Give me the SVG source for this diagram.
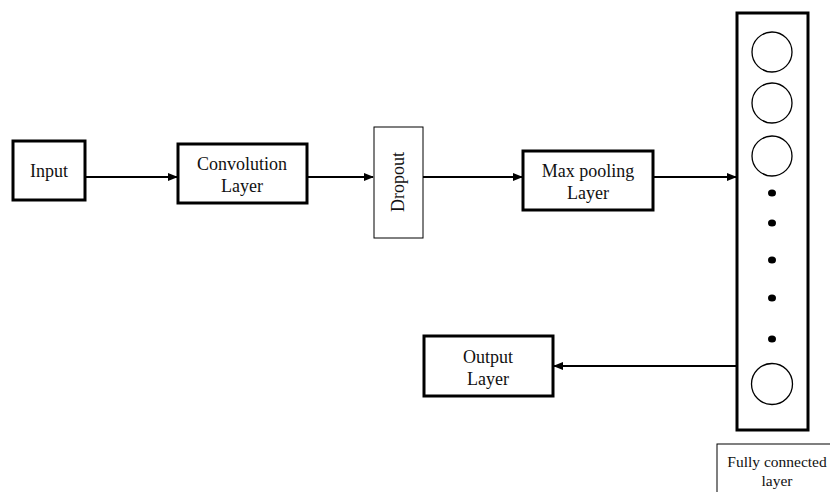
<svg xmlns="http://www.w3.org/2000/svg" width="830" height="492" viewBox="0 0 830 492">
<defs>
<style>
.box{fill:#fff;stroke:#000;stroke-width:3}
.thin{fill:#fff;stroke:#000;stroke-width:1}
text{font-family:'Liberation Serif','Times New Roman','DejaVu Serif',serif;font-size:18px;fill:#111;text-anchor:middle}
text.sm{font-size:15.5px}
.c{fill:none;stroke:#000;stroke-width:2}
.n{fill:#fff;stroke:#000;stroke-width:1.3}
</style>
<marker id="ah" markerWidth="10" markerHeight="10" refX="9" refY="5" orient="auto" markerUnits="userSpaceOnUse">
<path d="M0,1 L10,5 L0,9 Z" fill="#000"/>
</marker>
</defs>
<rect width="830" height="492" fill="#fff"/>
<g id="connectors">
<line class="c" x1="85" y1="177" x2="177" y2="177" marker-end="url(#ah)"/>
<line class="c" x1="307" y1="177" x2="373" y2="177" marker-end="url(#ah)"/>
<line class="c" x1="423" y1="177" x2="522" y2="177" marker-end="url(#ah)"/>
<line class="c" x1="653" y1="177" x2="736" y2="177" marker-end="url(#ah)"/>
<line class="c" x1="737" y1="366" x2="554" y2="366" marker-end="url(#ah)"/>
</g>
<g id="input">
<rect class="box" x="13" y="141" width="72" height="59"/>
<text x="49" y="177">Input</text>
</g>
<g id="conv">
<rect class="box" x="178" y="144" width="129" height="59"/>
<text x="242" y="170">Convolution</text>
<text x="242" y="192">Layer</text>
</g>
<g id="dropout">
<rect class="thin" x="374" y="127" width="49" height="111"/>
<text transform="translate(404,182) rotate(-90)">Dropout</text>
</g>
<g id="maxpool">
<rect class="box" x="523" y="151" width="130" height="59"/>
<text x="588" y="177">Max pooling</text>
<text x="588" y="199">Layer</text>
</g>
<g id="fc">
<rect class="box" x="737" y="13" width="71" height="417"/>
<circle class="n" cx="772" cy="52" r="20"/>
<circle class="n" cx="772" cy="103" r="20"/>
<circle class="n" cx="772" cy="156" r="20"/>
<ellipse cx="772" cy="193" rx="4" ry="3.5"/>
<ellipse cx="772" cy="223" rx="4" ry="3.5"/>
<ellipse cx="772" cy="260" rx="4" ry="3.5"/>
<ellipse cx="772" cy="298" rx="4" ry="3.5"/>
<ellipse cx="772" cy="339" rx="4" ry="3.5"/>
<circle class="n" cx="772" cy="384" r="20.5"/>
</g>
<g id="output">
<rect class="box" x="424" y="336" width="129" height="60"/>
<text x="488" y="363">Output</text>
<text x="488" y="385">Layer</text>
</g>
<g id="fc-label">
<rect class="thin" x="717" y="444" width="120" height="55" stroke="#666"/>
<text class="sm" x="777" y="467">Fully connected</text>
<text class="sm" x="777" y="486">layer</text>
</g>
</svg>
